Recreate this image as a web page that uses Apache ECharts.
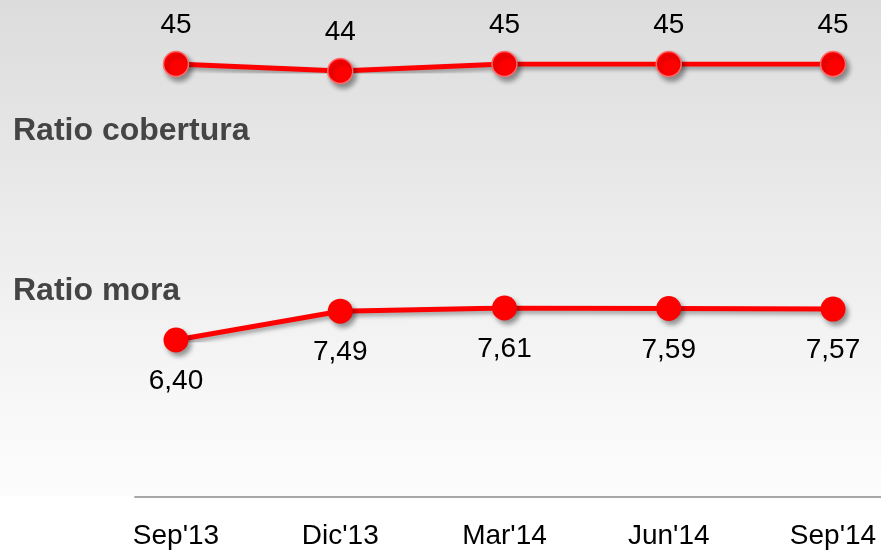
<!DOCTYPE html>
<html>
<head>
<meta charset="utf-8">
<script src="https://cdn.jsdelivr.net/npm/echarts@6/dist/echarts.min.js"></script>
<style>
html,body{margin:0;padding:0;}
#c{width:881px;height:550px;}
</style>
</head>
<body>
<div id="c"></div>
<script>
var categories = ["Sep'13", "Dic'13", "Mar'14", "Jun'14", "Sep'14"];
var ratioCobertura = [45, 44, 45, 45, 45];
var ratioMora = [6.40, 7.49, 7.61, 7.59, 7.57];
var seriesNames = ["Ratio cobertura", "Ratio mora"];

var chart = echarts.init(document.getElementById('c'));
var FONT = '"Liberation Sans", Arial, sans-serif';

function fmtComma(v) { return v.toFixed(2).replace('.', ','); }

var lineStyle = {
  color: '#ff0000', width: 5,
  shadowColor: 'rgba(0,0,0,0.35)', shadowBlur: 4, shadowOffsetX: 2, shadowOffsetY: 3
};
var itemStyleTop = {
  color: '#ff0000', borderColor: '#ff6a6a', borderWidth: 1.5,
  shadowColor: 'rgba(0,0,0,0.4)', shadowBlur: 5, shadowOffsetX: 3, shadowOffsetY: 4
};
var itemStyleBottom = {
  color: '#ff0000', borderWidth: 0,
  shadowColor: 'rgba(0,0,0,0.4)', shadowBlur: 5, shadowOffsetX: 3, shadowOffsetY: 4
};

var hiddenY = { type: 'value', show: false };
var hiddenX = { type: 'category', data: categories, boundaryGap: false, show: false };

chart.setOption({
  animation: false,
  backgroundColor: {
    type: 'linear', x: 0, y: 0, x2: 0, y2: 1,
    colorStops: [
      { offset: 0, color: '#dcdcdc' },
      { offset: 0.5, color: '#efefef' },
      { offset: 0.75, color: '#f8f8f8' },
      { offset: 0.9, color: '#fcfcfc' },
      { offset: 0.905, color: '#ffffff' },
      { offset: 1, color: '#ffffff' }
    ]
  },
  title: [
    { text: seriesNames[0], left: 13, top: 115, padding: 0,
      textStyle: { fontFamily: FONT, fontSize: 32, fontWeight: 'bold', color: '#444444' } },
    { text: seriesNames[1], left: 13, top: 275, padding: 0,
      textStyle: { fontFamily: FONT, fontSize: 32, fontWeight: 'bold', color: '#444444' } }
  ],
  grid: [
    { left: 176, right: 48, top: 64, height: 7 },
    { left: 176, right: 48, top: 308, height: 32 },
    { left: 176, right: 48, top: 400, height: 97 },
    { left: 135, right: 0, top: 400, height: 97 }
  ],
  xAxis: [
    Object.assign({ gridIndex: 0 }, hiddenX),
    Object.assign({ gridIndex: 1 }, hiddenX),
    { gridIndex: 2, type: 'category', data: categories, boundaryGap: false,
      axisLine: { show: false }, axisTick: { show: false },
      axisLabel: { margin: 32, fontFamily: FONT, fontSize: 28, color: '#000000' } },
    { gridIndex: 3, type: 'category', data: [''], boundaryGap: false,
      axisLine: { show: true, lineStyle: { color: '#a8a8a8', width: 2 } },
      axisTick: { show: false }, axisLabel: { show: false } }
  ],
  yAxis: [
    Object.assign({ gridIndex: 0, min: 44, max: 45 }, hiddenY),
    Object.assign({ gridIndex: 1, min: 6.40, max: 7.61 }, hiddenY),
    Object.assign({ gridIndex: 2 }, hiddenY),
    Object.assign({ gridIndex: 3 }, hiddenY)
  ],
  series: [
    { name: seriesNames[0], type: 'line', xAxisIndex: 0, yAxisIndex: 0,
      data: ratioCobertura, symbol: 'circle', symbolSize: 25,
      lineStyle: lineStyle, itemStyle: itemStyleTop,
      label: { show: true, position: 'top', distance: 11,
        fontFamily: FONT, fontSize: 28, color: '#000000',
        formatter: function (p) { return String(p.value); } } },
    { name: seriesNames[1], type: 'line', xAxisIndex: 1, yAxisIndex: 1,
      data: ratioMora, symbol: 'circle', symbolSize: 25,
      lineStyle: lineStyle, itemStyle: itemStyleBottom,
      label: { show: true, position: 'bottom', distance: 15,
        fontFamily: FONT, fontSize: 28, color: '#000000',
        formatter: function (p) { return fmtComma(p.value); } } }
  ]
});
</script>
</body>
</html>
